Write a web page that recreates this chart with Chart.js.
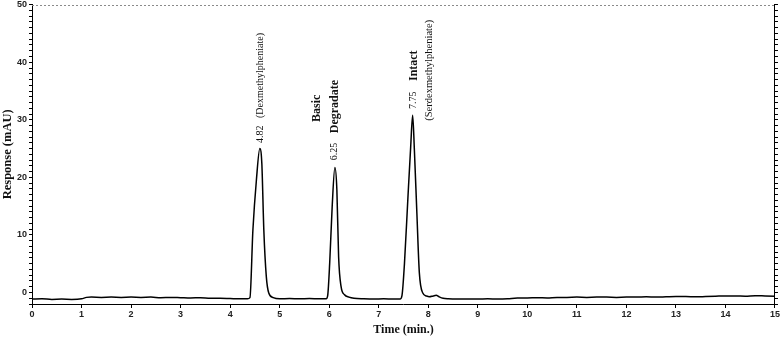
<!DOCTYPE html>
<html>
<head>
<meta charset="utf-8">
<script src="https://cdn.jsdelivr.net/npm/chart.js@4.4.0/dist/chart.umd.min.js"></script>
<style>
html,body{margin:0;padding:0;background:#fff;}
canvas{display:block;}
</style>
</head>
<body>
<canvas id="c" width="784" height="339"></canvas>
<script>
// ---- data ----
const timeMin = [
  0.0, 0.2, 0.4, 0.6, 0.8, 1.0, 1.1, 1.2, 1.4, 1.6, 1.8, 2.0, 2.2, 2.4, 2.6, 2.8,
  3.0, 3.2, 3.4, 3.6, 3.8, 4.0, 4.2, 4.35,
  4.40, 4.46, 4.53, 4.60, 4.64, 4.68, 4.73, 4.78, 4.87,
  5.0, 5.2, 5.4, 5.6, 5.8, 5.94,
  5.97, 6.01, 6.06, 6.115, 6.155, 6.19, 6.24, 6.31, 6.40,
  6.5, 6.7, 6.9, 7.1, 7.3, 7.43,
  7.47, 7.52, 7.59, 7.645, 7.685, 7.72, 7.77, 7.82, 7.89, 7.96,
  8.02, 8.10, 8.16, 8.22, 8.3, 8.4, 8.6, 8.8, 9.0, 9.2, 9.4, 9.6, 9.8,
  10.0, 10.2, 10.4, 10.6, 10.8, 11.0, 11.2, 11.4, 11.6, 11.8, 12.0, 12.2, 12.4,
  12.6, 12.8, 13.0, 13.2, 13.4, 13.6, 13.8, 14.0, 14.2, 14.4, 14.6, 14.8, 15.0
];
const responseMAU = [
  -1.15, -1.1, -1.2, -1.15, -1.2, -1.1, -0.85, -0.8, -0.85, -0.8, -0.85, -0.8, -0.85, -0.8, -0.9, -0.85,
  -0.9, -0.95, -0.9, -1.0, -1.0, -1.05, -1.1, -1.1,
  -0.9, 10.9, 19.5, 25.0, 22.4, 10.9, 2.8, -0.1, -0.9,
  -1.1, -1.05, -1.1, -1.05, -1.1, -1.1,
  -0.5, 5.1, 14.9, 21.7, 17.8, 6.2, 1.0, -0.4, -0.8,
  -1.0, -1.1, -1.15, -1.1, -1.15, -1.15,
  -0.5, 5.1, 16.6, 25.3, 30.8, 24.7, 13.8, 3.4, -0.1, -0.6,
  -0.75, -0.6, -0.5, -0.75, -1.0, -1.1, -1.15, -1.15, -1.15, -1.1, -1.15, -1.1, -0.95,
  -0.95, -0.9, -0.95, -0.85, -0.85, -0.8, -0.85, -0.8, -0.8, -0.85, -0.8, -0.8, -0.75,
  -0.8, -0.75, -0.7, -0.7, -0.75, -0.7, -0.65, -0.6, -0.6, -0.65, -0.55, -0.6, -0.65
];
const yLabelEvery = 10;
const peakLabelTexts = [
  '4.82', '(Dexmethylpheniate)',
  'Basic', '6.25', 'Degradate',
  '7.75', 'Intact', '(Serdexmethylpheniate)'
];

// ---- annotation layout (data-space anchors, fonts) ----
const peakLabelLayout = [
  {t: 4.617, v: 27.5, font: '10px "Liberation Serif", "Times New Roman", serif'},
  {t: 4.617, v: 37.7, font: '10px "Liberation Serif", "Times New Roman", serif'},
  {t: 5.756, v: 32.0, font: 'bold 12px "Liberation Serif", "Times New Roman", serif'},
  {t: 6.109, v: 24.5, font: '10px "Liberation Serif", "Times New Roman", serif'},
  {t: 6.109, v: 32.3, font: 'bold 12px "Liberation Serif", "Times New Roman", serif'},
  {t: 7.702, v: 33.4, font: '10px "Liberation Serif", "Times New Roman", serif'},
  {t: 7.702, v: 39.4, font: 'bold 12px "Liberation Serif", "Times New Roman", serif'},
  {t: 8.014, v: 38.6, font: '10.5px "Liberation Serif", "Times New Roman", serif'}
];

const peakLabelPlugin = {
  id: 'peakLabels',
  afterDatasetsDraw(chart) {
    const {ctx, scales} = chart;
    peakLabelTexts.forEach((txt, i) => {
      const l = peakLabelLayout[i];
      const px = scales.x.getPixelForValue(l.t);
      const py = scales.y.getPixelForValue(l.v);
      ctx.save();
      ctx.translate(px, py);
      ctx.rotate(-Math.PI / 2);
      ctx.font = l.font;
      ctx.fillStyle = '#111';
      ctx.textAlign = 'center';
      ctx.textBaseline = 'middle';
      ctx.fillText(txt, 0, 0);
      ctx.restore();
    });
  }
};

// dotted frame line along the top of the plot area
const topDottedLine = {
  id: 'topDottedLine',
  beforeDatasetsDraw(chart) {
    const {ctx, chartArea} = chart;
    const yTop = Math.round(chartArea.top) + 0.5;
    ctx.save();
    ctx.strokeStyle = '#8a8a8a';
    ctx.lineWidth = 1;
    ctx.setLineDash([2, 2]);
    ctx.beginPath();
    ctx.moveTo(chartArea.left, yTop);
    ctx.lineTo(chartArea.right, yTop);
    ctx.stroke();
    ctx.restore();
  }
};

const tickFont = {family: '"Liberation Sans Narrow", "Liberation Sans", Arial, sans-serif', size: 9, weight: 'bold', lineHeight: 0.6};
const titleFontFamily = '"Liberation Serif", "Times New Roman", serif';

new Chart(document.getElementById('c'), {
  type: 'line',
  data: {
    datasets: [{
      data: timeMin.map((t, i) => ({x: t, y: responseMAU[i]})),
      borderColor: '#000',
      borderWidth: 1.5,
      pointRadius: 0,
      cubicInterpolationMode: 'monotone',
      fill: false
    }]
  },
  options: {
    responsive: false,
    animation: false,
    events: [],
    layout: {padding: 0},
    plugins: {legend: {display: false}, tooltip: {enabled: false}},
    scales: {
      x: {
        type: 'linear', position: 'bottom', min: 0, max: 15,
        ticks: {stepSize: 1, autoSkip: false, maxRotation: 0, padding: 4, color: '#222', font: tickFont},
        grid: {drawOnChartArea: false, tickLength: 4, tickColor: '#000'},
        border: {color: '#000', width: 1},
        title: {display: true, text: 'Time (min.)', color: '#111',
                font: {family: titleFontFamily, size: 12, weight: 'bold'}, padding: {top: 2, bottom: 2}},
        afterFit(s) { s.height = 35; }
      },
      xTop: {
        type: 'linear', position: 'top', min: 0, max: 15,
        ticks: {display: false},
        grid: {display: false, drawTicks: false},
        border: {display: false},
        afterFit(s) { s.height = 4; }
      },
      y: {
        type: 'linear', position: 'left', min: -2, max: 50,
        ticks: {stepSize: 1, autoSkip: false, padding: 2, color: '#222', font: tickFont,
                callback: v => (v % yLabelEvery === 0 ? v : '')},
        grid: {drawOnChartArea: false, tickLength: 3, tickColor: '#000'},
        border: {color: '#000', width: 1},
        title: {display: true, text: 'Response (mAU)', color: '#111',
                font: {family: titleFontFamily, size: 12.5, weight: 'bold'}, padding: 0},
        afterFit(s) { s.width = 32; }
      },
      yR: {
        type: 'linear', position: 'right', min: -2, max: 50,
        ticks: {display: false, stepSize: 1, autoSkip: false},
        grid: {drawOnChartArea: false, tickLength: 3, tickColor: '#000'},
        border: {color: '#000', width: 1},
        afterFit(s) { s.width = 8; }
      }
    }
  },
  plugins: [peakLabelPlugin, topDottedLine]
});
</script>
</body>
</html>
